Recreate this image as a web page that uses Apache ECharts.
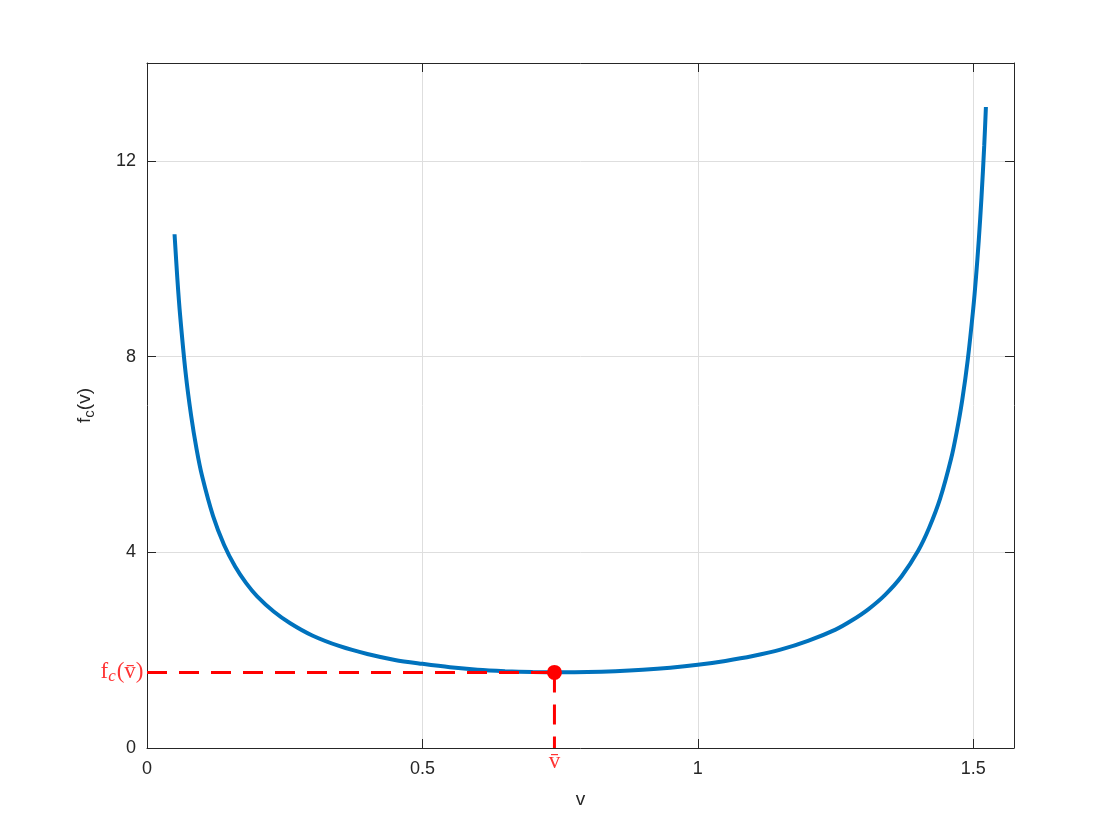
<!DOCTYPE html>
<html>
<head>
<meta charset="utf-8">
<script src="https://cdn.jsdelivr.net/npm/echarts@6/dist/echarts.min.js"></script>
<style>
html, body { margin: 0; padding: 0; background: #fff; }
#main { width: 1120px; height: 840px; }
</style>
</head>
<body>
<div id="main"></div>
<script>
// curve samples
var vValues = [0.05, 0.055, 0.06, 0.07, 0.08, 0.09, 0.10, 0.12, 0.14, 0.16, 0.18, 0.20, 0.23, 0.26,
  0.30, 0.35, 0.40, 0.45, 0.50, 0.55, 0.60, 0.65, 0.70, 0.75, 0.80, 0.85, 0.90, 0.95, 1.00,
  1.05, 1.10, 1.15, 1.20, 1.25, 1.28, 1.31, 1.34, 1.37, 1.40, 1.42, 1.44, 1.46, 1.47, 1.48,
  1.49, 1.50, 1.505, 1.51, 1.515, 1.52, 1.523];
var fValues = [10.5, 9.61, 8.86, 7.68, 6.80, 6.11, 5.56, 4.74, 4.15, 3.71, 3.37, 3.10, 2.79, 2.55,
  2.30, 2.08, 1.92, 1.80, 1.72, 1.65, 1.60, 1.571, 1.553, 1.546, 1.551, 1.568, 1.597, 1.64, 1.70,
  1.78, 1.88, 2.01, 2.19, 2.42, 2.61, 2.84, 3.13, 3.51, 4.03, 4.50, 5.10, 5.92, 6.46, 7.11,
  7.93, 8.98, 9.62, 10.37, 11.26, 12.32, 13.1];
// minimum point
var vBar = 0.7397;
var fBar = 1.545;
var xTicks = [0, 0.5, 1, 1.5];
var yTicks = [0, 4, 8, 12];

var curve = vValues.map(function (v, i) { return [v, fValues[i]]; });

var chart = echarts.init(document.getElementById('main'));
var axisColor = '#262626';
var sans = 'Liberation Sans, Arial, Helvetica, sans-serif';
var serif = 'Liberation Serif, Times New Roman, serif';

function xAxisCfg(pos, labels) {
  return {
    type: 'value',
    position: pos,
    min: 0,
    max: 1.574,
    interval: xTicks[1] - xTicks[0],
    axisLine: { show: true, onZero: false, lineStyle: { color: axisColor, width: 1 } },
    axisTick: { show: true, inside: true, length: 9, lineStyle: { color: axisColor } },
    axisLabel: {
      show: labels, showMaxLabel: false, margin: 12,
      color: axisColor, fontSize: 18, fontFamily: sans
    },
    splitLine: { show: labels, lineStyle: { color: '#dedede', width: 1 } }
  };
}
function yAxisCfg(pos, labels) {
  return {
    type: 'value',
    position: pos,
    min: 0,
    max: 14,
    interval: yTicks[1] - yTicks[0],
    axisLine: { show: true, onZero: false, lineStyle: { color: axisColor, width: 1 } },
    axisTick: { show: true, inside: true, length: 9, lineStyle: { color: axisColor } },
    axisLabel: {
      show: labels, showMaxLabel: false, margin: 11,
      color: axisColor, fontSize: 18, fontFamily: sans
    },
    splitLine: { show: labels, lineStyle: { color: '#dedede', width: 1 } }
  };
}

var xBottom = xAxisCfg('bottom', true);
xBottom.name = 'v';
xBottom.nameLocation = 'middle';
xBottom.nameGap = 42;
xBottom.nameTextStyle = { color: axisColor, fontSize: 19, fontFamily: sans };

var yLeft = yAxisCfg('left', true);
yLeft.name = '{a|f}{b|c}{a|(v)}';
yLeft.nameLocation = 'middle';
yLeft.nameGap = 50;
yLeft.nameTextStyle = {
  color: axisColor,
  rich: {
    a: { fontSize: 19, fontFamily: sans, color: axisColor },
    b: { fontSize: 15, fontFamily: sans, color: axisColor, padding: [10, 0, 0, 0] }
  }
};

var redRich = {
  r: { fontSize: 23, fontFamily: serif, color: '#ff0000' },
  s: { fontSize: 17, fontFamily: serif, fontStyle: 'italic', color: '#ff0000', padding: [9, 1, 0, 0] }
};

var option = {
  animation: false,
  backgroundColor: '#ffffff',
  grid: { left: 147, right: 106, top: 63, bottom: 92, containLabel: false },
  xAxis: [xBottom, xAxisCfg('top', false)],
  yAxis: [yLeft, yAxisCfg('right', false)],
  series: [
    {
      type: 'line',
      data: curve,
      smooth: 0.3,
      showSymbol: false,
      symbol: 'none',
      lineStyle: { color: '#0072bd', width: 4 },
      z: 2
    },
    {
      type: 'line',
      data: [[0, fBar], [vBar, fBar]],
      symbol: 'none',
      lineStyle: { color: '#ff0000', width: 3, type: [20, 12] },
      z: 3
    },
    {
      type: 'line',
      data: [[vBar, fBar], [vBar, 0]],
      symbol: 'none',
      lineStyle: { color: '#ff0000', width: 3, type: [20, 12] },
      z: 3
    },
    {
      type: 'scatter',
      data: [[vBar, fBar]],
      symbol: 'circle',
      symbolSize: 15,
      itemStyle: { color: '#ff0000', opacity: 1 },
      z: 4
    },
    {
      type: 'scatter',
      symbolSize: 1,
      itemStyle: { color: 'rgba(0,0,0,0)' },
      data: [
        {
          value: [0, fBar],
          label: {
            show: true, position: 'left', distance: 3,
            formatter: '{r|f}{s|c}{r|(v\u0304)}', rich: redRich
          }
        },
        {
          value: [vBar, 0],
          label: {
            show: true, position: 'bottom', distance: 2,
            formatter: '{r|v\u0304}', rich: redRich
          }
        }
      ],
      z: 5
    }
  ]
};
chart.setOption(option);
</script>
</body>
</html>
